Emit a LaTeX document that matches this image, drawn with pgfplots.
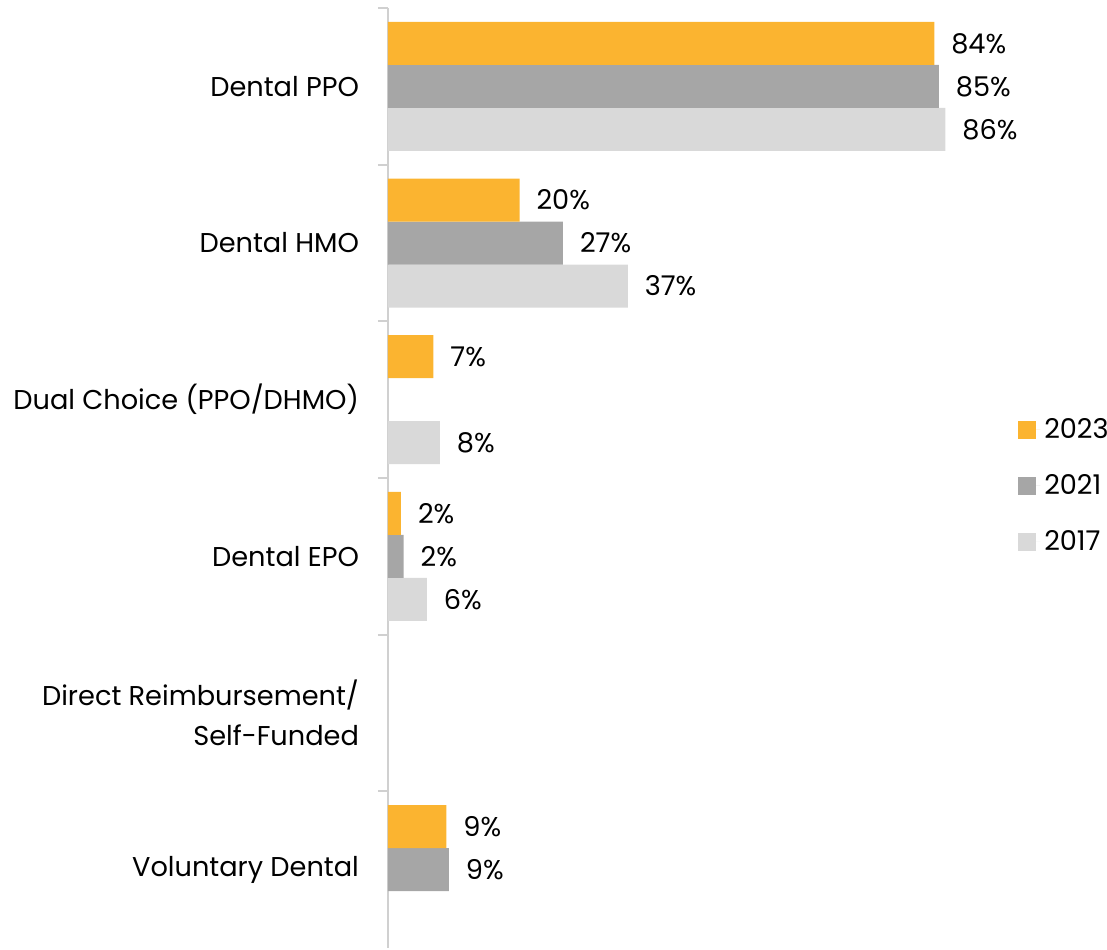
\documentclass[border=0pt]{standalone}
\usepackage{pgfplots}
\pgfplotsset{compat=1.18}
\usepackage{fontspec}
\setmainfont{Poppins}
\definecolor{c23}{HTML}{FBB430}
\definecolor{c21}{HTML}{A6A6A6}
\definecolor{c17}{HTML}{D9D9D9}
\definecolor{axc}{HTML}{D0D0D0}
\pgfkeys{/pgf/number format/assume math mode=true}
\newcommand{\lblfont}{\fontsize{13.6}{20}\selectfont}
\begin{document}
\begin{tikzpicture}
\useasboundingbox (-194pt,-0.5pt) rectangle (359.5pt,474pt);
\begin{axis}[
  scale only axis, width=324pt, height=470pt,
  xbar=0pt, bar width=21.5pt,
  xmin=0, xmax=100,
  ymin=-0.5, ymax=5.5, y dir=reverse,
  axis x line=none, axis y line*=left,
  axis line style={axc, line width=1pt},
  ytick={0,...,5},
  yticklabels={Dental PPO, Dental HMO, Dual Choice (PPO/DHMO), Dental EPO, {Direct Reimbursement/\\Self-Funded}, Voluntary Dental},
  yticklabel style={font=\lblfont, align=right, xshift=-11pt},
  minor ytick={-0.5,0.5,...,4.5},
  major tick length=0pt, minor tick length=5pt, tick align=outside,
  minor tick style={axc, line width=1pt},
  major tick style={draw=none},
  nodes near coords={\pgfmathprintnumber[fixed,precision=0]{\pgfplotspointmeta}\%},
  point meta=x,
  nodes near coords style={anchor=west, font=\lblfont, xshift=5pt, black},
  reverse legend,
  legend style={draw=none, font=\lblfont, at={(rel axis cs:0.972,0.492)}, anchor=west, inner sep=0pt, row sep=12.5pt, cells={anchor=west}},
  legend image code/.code={\fill[#1,draw=none] (0pt,-4.5pt) rectangle (9pt,4.5pt);\path (0pt,0pt) -- (11pt,0pt);},
  legend cell align=left,
  clip=false,
]
\addplot[fill=c17, draw=none] coordinates {(86,0) (37,1) (8,2) (6,3)};
\addplot[fill=c21, draw=none] coordinates {(85,0) (27,1) (2.4,3) (9.4,5)};
\addplot[fill=c23, draw=none] coordinates {(84.3,0) (20.3,1) (7,2) (2,3) (9,5)};
\legend{2017,2021,2023}
\end{axis}
\end{tikzpicture}
\end{document}
